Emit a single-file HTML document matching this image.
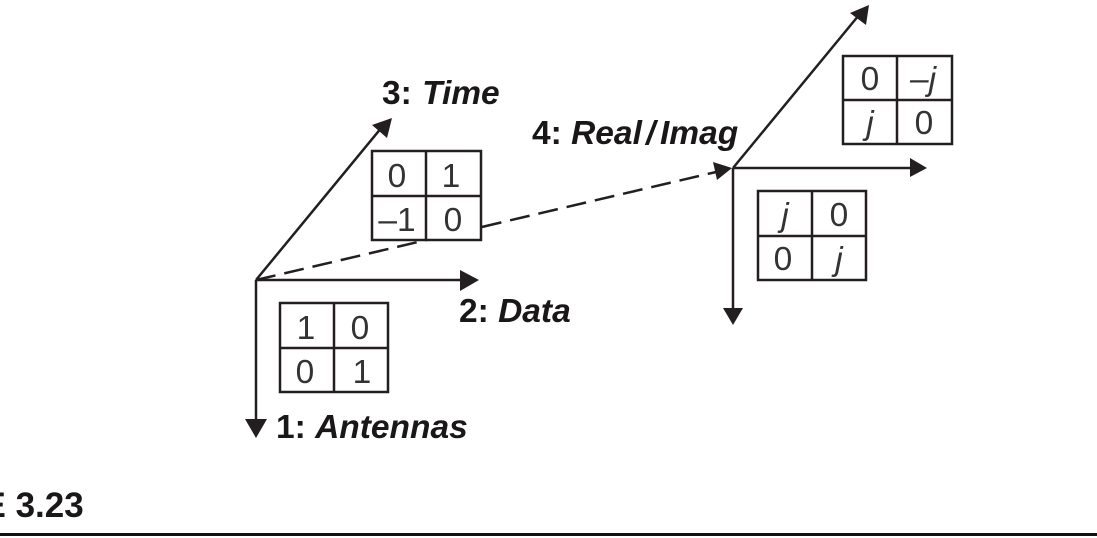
<!DOCTYPE html>
<html><head><meta charset="utf-8">
<style>
html,body{margin:0;padding:0;background:#fff;width:1097px;height:538px;overflow:hidden}
svg{display:block}
.l{font:bold 33.5px "Liberation Sans",sans-serif;fill:#1a1718}
.l tspan,.i{font-style:italic}
.n{font:33.5px "Liberation Sans",sans-serif;fill:#333;text-anchor:middle}
.j{font:italic 33.5px "Liberation Sans",sans-serif;fill:#333;text-anchor:middle}
.b{fill:#fff;stroke:#231f20;stroke-width:2.5}
.a{stroke:#231f20;stroke-width:2.5;fill:none}
.h{fill:#231f20;stroke:none}
</style></head><body>
<svg width="1097" height="538" viewBox="0 0 1097 538" xmlns="http://www.w3.org/2000/svg">
<rect width="1097" height="538" fill="#fff"/>

<!-- dashed -->
<line class="a" x1="256" y1="280" x2="716" y2="172" stroke-dasharray="20 9"/>

<!-- left axes -->
<line class="a" x1="256" y1="280" x2="382" y2="127"/>
<polygon class="h" points="392,118 387,138 372,125"/>
<line class="a" x1="256" y1="280" x2="462" y2="280"/>
<polygon class="h" points="479,280 460,270 460,291"/>
<line class="a" x1="256" y1="280" x2="256" y2="422"/>
<polygon class="h" points="256,438 245,419 267,419"/>

<!-- right axes -->
<line class="a" x1="733" y1="168" x2="859" y2="15"/>
<polygon class="h" points="869,5 866,25 850,13"/>
<line class="a" x1="733" y1="168" x2="912" y2="168"/>
<polygon class="h" points="927,168 910,158 910,177"/>
<line class="a" x1="733" y1="168" x2="733" y2="309"/>
<polygon class="h" points="733,325 723,308 743,308"/>
<polygon class="h" points="732,168 713,162 717,180"/>

<!-- box: time -->
<rect class="b" x="372" y="151" width="109" height="89"/>
<line class="a" x1="426" y1="151" x2="426" y2="240"/>
<line class="a" x1="372" y1="196" x2="481" y2="196"/>
<text class="n" x="397" y="187">0</text>
<text class="n" x="451" y="187">1</text>
<text class="n" x="397" y="231">–1</text>
<text class="n" x="453" y="231">0</text>

<!-- box: antennas -->
<rect class="b" x="280" y="303" width="108" height="89"/>
<line class="a" x1="334" y1="303" x2="334" y2="392"/>
<line class="a" x1="280" y1="348" x2="388" y2="348"/>
<text class="n" x="306" y="339">1</text>
<text class="n" x="360" y="339">0</text>
<text class="n" x="305" y="383">0</text>
<text class="n" x="362" y="383">1</text>

<!-- box: top right -->
<rect class="b" x="843" y="56" width="109" height="88"/>
<line class="a" x1="897" y1="56" x2="897" y2="144"/>
<line class="a" x1="843" y1="100" x2="952" y2="100"/>
<text class="n" x="870" y="90">0</text>
<text class="j" x="923" y="90">–j</text>
<text class="j" x="870" y="134">j</text>
<text class="n" x="924" y="134">0</text>

<!-- box: bottom right -->
<rect class="b" x="758" y="191" width="108" height="89"/>
<line class="a" x1="812" y1="191" x2="812" y2="280"/>
<line class="a" x1="758" y1="236" x2="866" y2="236"/>
<text class="j" x="785" y="226">j</text>
<text class="n" x="839" y="226">0</text>
<text class="n" x="783" y="270">0</text>
<text class="j" x="839" y="270">j</text>

<!-- labels -->
<text class="l" x="382" y="104">3: <tspan dx="1">Time</tspan></text>
<text class="l" x="532" y="144">4: <tspan>Real</tspan></text>
<text class="l i" x="646" y="144">/</text>
<text class="l i" x="660" y="144">Imag</text>
<text class="l" x="459" y="322">2: <tspan>Data</tspan></text>
<text class="l" x="276" y="438">1: <tspan>Antennas</tspan></text>
<text class="l" x="-17.5" y="517" style="font-size:35px">E 3.23</text>

<rect x="0" y="533" width="1097" height="3" fill="#111"/>
</svg>
</body></html>
